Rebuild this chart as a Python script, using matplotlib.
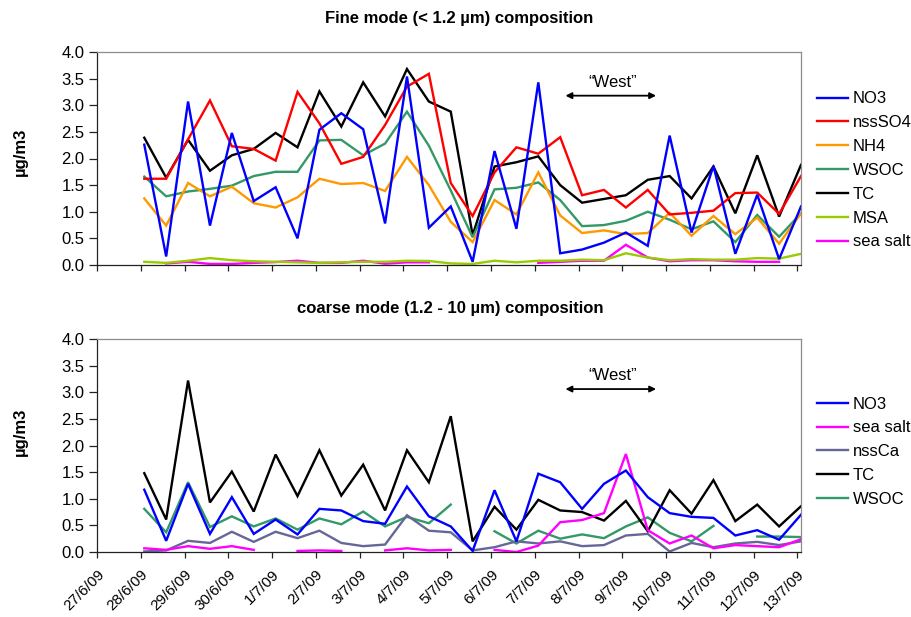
import numpy as np
import matplotlib
matplotlib.use("Agg")
import matplotlib.pyplot as plt

plt.rcParams["font.family"] = ["Liberation Sans", "DejaVu Sans"]

nan = np.nan

# x axis: one tick per day, two samples per day
date_labels = ["27/6/09", "28/6/09", "29/6/09", "30/6/09", "1/7/09", "2/7/09",
               "3/7/09", "4/7/09", "5/7/09", "6/7/09", "7/7/09", "8/7/09",
               "9/7/09", "10/7/09", "11/7/09", "12/7/09", "13/7/09"]
sample_days = 1.08 + 0.5 * np.arange(31)

# fine mode (< 1.2 um)
fine_no3 = [2.26, 0.16, 3.07, 0.74, 2.48, 1.20, 1.46, 0.50, 2.54, 2.85, 2.55,
            0.78, 3.54, 0.70, 1.10, 0.06, 2.14, 0.68, 3.43, 0.22, 0.29, 0.42,
            0.61, 0.36, 2.43, 0.61, 1.86, 0.21, 1.32, 0.11, 1.10]
fine_nsso4 = [1.62, 1.62, 2.36, 3.09, 2.23, 2.18, 1.96, 3.25, 2.66, 1.90, 2.03,
              2.63, 3.35, 3.59, 1.54, 0.92, 1.74, 2.21, 2.09, 2.40, 1.31, 1.41,
              1.08, 1.41, 0.95, 0.98, 1.02, 1.35, 1.36, 0.96, 1.67]
fine_nh4 = [1.25, 0.74, 1.54, 1.29, 1.47, 1.16, 1.08, 1.27, 1.62, 1.52, 1.54,
            1.39, 2.03, 1.50, 0.81, 0.43, 1.22, 0.95, 1.74, 0.93, 0.60, 0.65,
            0.58, 0.60, 0.98, 0.55, 0.92, 0.58, 0.89, 0.40, 0.97]
fine_wsoc = [1.66, 1.29, 1.38, 1.43, 1.49, 1.67, 1.75, 1.75, 2.34, 2.35, 2.06,
             2.28, 2.88, 2.24, 1.40, 0.52, 1.42, 1.45, 1.55, 1.22, 0.73, 0.75,
             0.83, 1.00, 0.85, 0.67, 0.82, 0.43, 0.94, 0.53, 0.97]
fine_tc = [2.39, 1.64, 2.35, 1.77, 2.06, 2.18, 2.48, 2.21, 3.26, 2.60, 3.43,
           2.79, 3.68, 3.07, 2.88, 0.56, 1.85, 1.93, 2.04, 1.50, 1.17, 1.24,
           1.31, 1.60, 1.67, 1.25, 1.85, 0.97, 2.06, 0.91, 1.88]
fine_msa = [0.06, 0.04, 0.08, 0.13, 0.09, 0.07, 0.06, 0.05, 0.04, 0.05, 0.06,
            0.06, 0.08, 0.075, 0.03, 0.02, 0.08, 0.05, 0.08, 0.08, 0.10, 0.09,
            0.22, 0.14, 0.09, 0.11, 0.10, 0.10, 0.13, 0.12, 0.21]
fine_seasalt = [nan, 0.03, 0.06, 0.02, 0.02, 0.04, 0.055, 0.08, 0.04, 0.04,
                0.08, 0.025, 0.05, 0.05, nan, nan, nan, nan, 0.04, 0.06, 0.08,
                0.08, 0.38, 0.14, 0.07, 0.09, 0.09, 0.07, 0.06, 0.06, nan]

# coarse mode (1.2 - 10 um)
coarse_no3 = [1.17, 0.21, 1.28, 0.34, 1.03, 0.34, 0.61, 0.33, 0.81, 0.78, 0.58,
              0.53, 1.23, 0.67, 0.48, 0.02, 1.16, 0.20, 1.47, 1.31, 0.81, 1.28,
              1.53, 1.03, 0.73, 0.66, 0.64, 0.31, 0.41, 0.23, 0.70]
coarse_seasalt = [0.07, 0.04, 0.11, 0.06, 0.11, 0.04, nan, 0.02, 0.03, 0.02,
                  nan, 0.03, 0.07, 0.03, 0.04, nan, 0.04, 0.00, 0.12, 0.56,
                  0.60, 0.73, 1.84, 0.41, 0.16, 0.31, 0.07, 0.13, 0.11, 0.09, 0.24]
coarse_nssca = [0.01, 0.03, 0.21, 0.17, 0.38, 0.19, 0.38, 0.26, 0.40, 0.17,
                0.11, 0.14, 0.69, 0.40, 0.37, 0.03, 0.09, 0.20, 0.16, 0.20,
                0.11, 0.13, 0.31, 0.34, 0.01, 0.17, 0.09, 0.16, 0.19, 0.13, 0.20]
coarse_tc = [1.48, 0.61, 3.22, 0.93, 1.51, 0.76, 1.83, 1.05, 1.91, 1.06, 1.64,
             0.78, 1.91, 1.31, 2.55, 0.20, 0.85, 0.42, 0.98, 0.78, 0.75, 0.59,
             0.96, 0.39, 1.16, 0.72, 1.35, 0.58, 0.89, 0.48, 0.86]
coarse_wsoc = [0.81, 0.37, 1.31, 0.47, 0.67, 0.48, 0.63, 0.42, 0.63, 0.52, 0.76,
               0.48, 0.66, 0.54, 0.89, nan, 0.39, 0.16, 0.40, 0.25, 0.33, 0.26,
               0.48, 0.65, 0.36, 0.20, 0.49, nan, 0.29, 0.29, 0.28]

BLUE, RED, ORANGE, GREEN = "#0000ff", "#ff0000", "#ff9900", "#339966"
BLACK, LIME, MAGENTA, SLATE = "#000000", "#99cc00", "#ff00ff", "#666699"

fine_series = [("NO3", fine_no3, BLUE), ("nssSO4", fine_nsso4, RED),
               ("NH4", fine_nh4, ORANGE), ("WSOC", fine_wsoc, GREEN),
               ("TC", fine_tc, BLACK), ("MSA", fine_msa, LIME),
               ("sea salt", fine_seasalt, MAGENTA)]
coarse_series = [("NO3", coarse_no3, BLUE), ("sea salt", coarse_seasalt, MAGENTA),
                 ("nssCa", coarse_nssca, SLATE), ("TC", coarse_tc, BLACK),
                 ("WSOC", coarse_wsoc, GREEN)]

FS = 12
W, H = 912, 617
fig = plt.figure(figsize=(W / 100, H / 100), dpi=100)


def px_axes(left, top, right, bottom):
    return fig.add_axes([left / W, 1 - bottom / H, (right - left) / W, (bottom - top) / H])


ax_fine = px_axes(97, 52, 801, 265)
ax_coarse = px_axes(97, 339, 801, 552)

for ax, series, leg_top in [(ax_fine, fine_series, 0.815), (ax_coarse, coarse_series, 0.73)]:
    handles = {}
    # first series in the legend ends up drawn on top
    for name, vals, color in series[::-1]:
        (ln,) = ax.plot(sample_days, vals, color=color, lw=1.7, label=name,
                        solid_joinstyle="miter")
        handles[name] = ln
    ax.set_xlim(0, 16.08)
    ax.set_ylim(0, 4.0)
    ax.set_yticks(np.arange(0, 4.01, 0.5))
    ax.set_yticklabels([f"{v:.1f}" for v in np.arange(0, 4.01, 0.5)], fontsize=FS)
    ax.set_xticks(np.arange(len(date_labels)))
    ax.tick_params(axis="both", direction="out", width=0.9, color="#222222")
    ax.tick_params(axis="y", length=5.5, pad=3.5)
    ax.tick_params(axis="x", length=4)
    for side in ("top", "right"):
        ax.spines[side].set_color("#8c8c8c")
        ax.spines[side].set_linewidth(0.9)
    for side in ("left", "bottom"):
        ax.spines[side].set_color("#222222")
        ax.spines[side].set_linewidth(0.9)
    ax.legend([handles[n] for n, _, _ in series], [n for n, _, _ in series],
              loc="upper left", frameon=False, fontsize=FS,
              handlelength=1.85, handletextpad=0.3, labelspacing=0.53,
              borderaxespad=0, borderpad=0,
              bbox_to_anchor=(1.023, leg_top))

ax_fine.set_xticklabels([])
ax_coarse.set_xticklabels(date_labels, rotation=45, ha="right",
                          rotation_mode="anchor", fontsize=11)
ax_coarse.tick_params(axis="x", pad=7)

# "West" period marker
for ax, y_arrow, y_text in [(ax_fine, 3.18, 3.43), (ax_coarse, 3.06, 3.32)]:
    ax.annotate("", xy=(12.77, y_arrow), xytext=(10.70, y_arrow),
                arrowprops=dict(arrowstyle="<|-|>", color="black", lw=1.3,
                                mutation_scale=9, shrinkA=0, shrinkB=0))
    ax.text(11.77, y_text, "\u201cWest\u201d", ha="center", va="center", fontsize=FS)

fig.text(459 / W, 1 - 19 / H, "Fine mode (< 1.2 \u00b5m) composition",
         ha="center", va="center", fontsize=FS, fontweight="bold")
fig.text(450 / W, 1 - 309 / H, "coarse mode (1.2 - 10 \u00b5m) composition",
         ha="center", va="center", fontsize=FS, fontweight="bold")
for yc in (152, 432):
    fig.text(20 / W, 1 - yc / H, "\u00b5g/m3", rotation=90, ha="center",
             va="center", fontsize=FS, fontweight="bold")

fig.savefig("out.png", dpi=100)
